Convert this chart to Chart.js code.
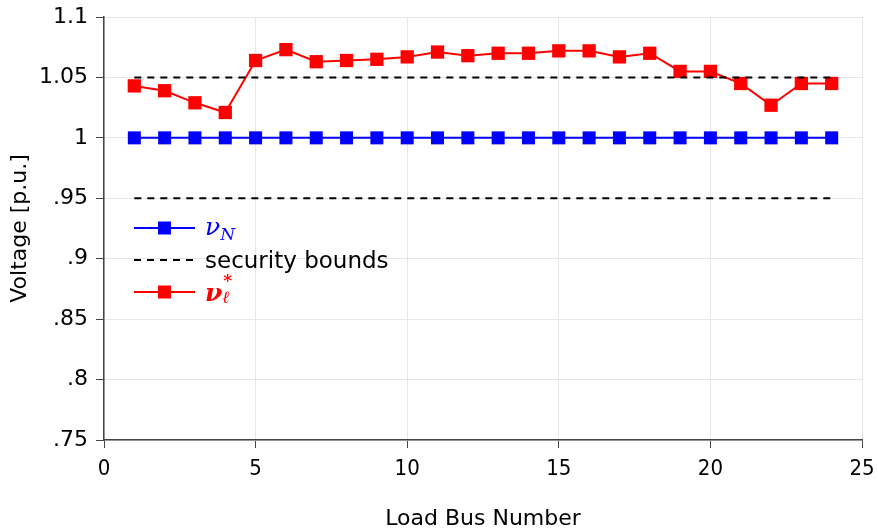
<!DOCTYPE html>
<html>
<head>
<meta charset="utf-8">
<script src="https://cdn.jsdelivr.net/npm/chart.js@4"></script>
<style>
    body { margin: 0; background: #fff; }
    #wrap { position: relative; width: 878px; height: 532px; }
    #legend { position: absolute; left: 134px; top: 212px; font-family: 'DejaVu Sans', sans-serif; font-size: 23px; }
    .row { height: 32px; display: flex; align-items: center; }
    .row svg { width: 71px; height: 32px; flex: none; }
    .nu { font-family: 'DejaVu Serif', serif; font-style: italic; font-size: 25px; line-height: 1; position: relative; }
    .nu sub { font-size: 17px; vertical-align: -5px; }
    .scripts { position: relative; display: inline-block; width: 14px; height: 25px; vertical-align: top; }
    .scripts .up { position: absolute; left: 1px; top: -8px; font-size: 17px; }
    .scripts .down { position: absolute; left: 0; top: 9px; font-size: 17px; font-weight: normal; }
</style>
</head>
<body>
<div id="wrap">
    <canvas id="graphic" width="878" height="532"></canvas>
    <div id="legend">
        <div class="row">
            <svg><line x1="0" y1="16" x2="61" y2="16" stroke="#0000ff" stroke-width="2"/><rect x="24" y="9.5" width="13" height="13" fill="#0000ff"/></svg>
            <span class="nu" style="color:#0000ff">ν<sub>N</sub></span>
        </div>
        <div class="row">
            <svg><line x1="0" y1="16" x2="61" y2="16" stroke="#000" stroke-width="2" stroke-dasharray="7 6"/></svg>
            <span>security bounds</span>
        </div>
        <div class="row">
            <svg><line x1="0" y1="16" x2="61" y2="16" stroke="#ff0000" stroke-width="2"/><rect x="24" y="9.5" width="13" height="13" fill="#ff0000"/></svg>
            <span class="nu" style="color:#ff0000;font-weight:bold">ν<span class="scripts"><span class="up">*</span><span class="down">ℓ</span></span></span>
        </div>
    </div>
</div>
<script>
const busNumbers = [1, 2, 3, 4, 5, 6, 7, 8, 9, 10, 11, 12, 13, 14, 15, 16, 17, 18, 19, 20, 21, 22, 23, 24];
const nominalVoltage = [1, 1, 1, 1, 1, 1, 1, 1, 1, 1, 1, 1, 1, 1, 1, 1, 1, 1, 1, 1, 1, 1, 1, 1];
const optimalVoltage = [1.043, 1.039, 1.029, 1.021, 1.064, 1.073, 1.063, 1.064, 1.065, 1.067, 1.071, 1.068,
    1.070, 1.070, 1.072, 1.072, 1.067, 1.070, 1.055, 1.055, 1.045, 1.027, 1.045, 1.045];
const boundBuses = [1, 24];
const upperBound = [1.05, 1.05];
const lowerBound = [0.95, 0.95];

const xy = (xs, ys) => xs.map((x, i) => ({ x: x, y: ys[i] }));

const tickFont = { family: 'DejaVu Sans', size: 22 };
const titleFont = { family: 'DejaVu Sans', size: 22 };

new Chart(document.getElementById('graphic'), {
    type: 'line',
    data: {
        datasets: [
            {
                label: 'upper bound',
                data: xy(boundBuses, upperBound),
                borderColor: '#000',
                borderWidth: 2,
                borderDash: [7, 6],
                pointRadius: 0
            },
            {
                label: 'lower bound',
                data: xy(boundBuses, lowerBound),
                borderColor: '#000',
                borderWidth: 2,
                borderDash: [7, 6],
                pointRadius: 0
            },
            {
                label: 'nu_N',
                data: xy(busNumbers, nominalVoltage),
                borderColor: '#0000ff',
                backgroundColor: '#0000ff',
                borderWidth: 2,
                pointStyle: 'rect',
                pointRadius: 9.2,
                pointBorderWidth: 0
            },
            {
                label: 'nu_l*',
                data: xy(busNumbers, optimalVoltage),
                borderColor: '#ff0000',
                backgroundColor: '#ff0000',
                borderWidth: 2,
                pointStyle: 'rect',
                pointRadius: 9.4,
                pointBorderWidth: 0
            }
        ]
    },
    options: {
        responsive: false,
        animation: false,
        devicePixelRatio: 1,
        layout: { padding: { top: 17, right: 16, left: 0, bottom: 0 } },
        plugins: { legend: { display: false }, tooltip: { enabled: false } },
        scales: {
            x: {
                type: 'linear',
                min: 0,
                max: 25,
                ticks: { stepSize: 5, font: { family: 'DejaVu Sans Condensed', size: 22 }, color: '#000', padding: 8 },
                grid: { color: '#e6e6e6', tickColor: '#444', tickLength: 8 },
                border: { color: '#444', width: 1.5 },
                title: { display: true, text: 'Load Bus Number', font: titleFont, color: '#000', padding: { top: 0, bottom: 0 } },
                afterFit: (scale) => {
                    scale.height = 92;
                    scale.paddingLeft = 0;
                    scale.paddingRight = 0;
                }
            },
            y: {
                min: 0.75,
                max: 1.1,
                ticks: {
                    stepSize: 0.05,
                    font: tickFont,
                    color: '#000',
                    padding: 8,
                    callback: (v) => String(+v.toFixed(2)).replace(/^0\./, '.')
                },
                grid: { color: '#e6e6e6', tickColor: '#444', tickLength: 8 },
                border: { color: '#444', width: 1.5 },
                title: { display: true, text: 'Voltage [p.u.]', font: titleFont, color: '#000', padding: { top: 7, bottom: 0 } },
                afterFit: (scale) => {
                    scale.width = 104;
                    scale.paddingTop = 0;
                    scale.paddingBottom = 0;
                }
            }
        }
    }
});
</script>
</body>
</html>
